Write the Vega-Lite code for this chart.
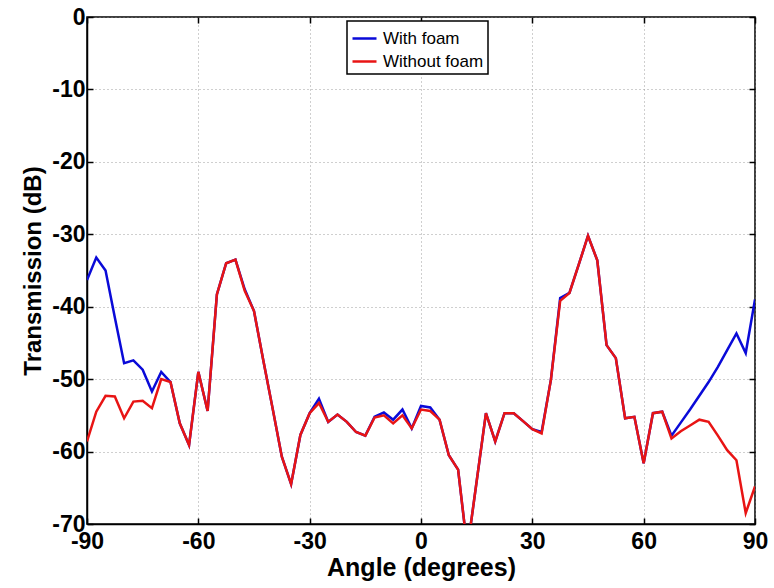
{
  "$schema": "https://vega.github.io/schema/vega-lite/v6.json",
  "autosize": "none",
  "width": 668,
  "height": 507,
  "padding": {"left": 87, "top": 17, "right": 19, "bottom": 64},
  "background": "white",
  "config": {
    "font": "Liberation Sans",
    "view": {"stroke": "black", "strokeWidth": 1.5},
    "axis": {
      "domainColor": "black",
      "domainWidth": 1.5,
      "tickColor": "black",
      "tickWidth": 1.5,
      "tickSize": -6,
      "labelFont": "Liberation Sans",
      "labelFontSize": 23,
      "labelFontWeight": "bold",
      "labelColor": "black",
      "labelFlush": false,
      "labelOverlap": false,
      "labelExpr": "'' + datum.value",
      "titleFont": "Liberation Sans",
      "titleFontWeight": "bold",
      "titleColor": "black",
      "gridColor": "#888888",
      "gridDash": [1, 3],
      "gridWidth": 1,
      "gridOpacity": 0.8
    },
    "legend": {
      "strokeColor": "black",
      "fillColor": "white",
      "strokeWidth": 1.5,
      "padding": 4,
      "labelFont": "Liberation Sans",
      "labelFontSize": 17,
      "labelColor": "black",
      "symbolType": "stroke",
      "symbolSize": 576,
      "symbolStrokeWidth": 2.5,
      "rowPadding": 1,
      "labelOffset": 5
    }
  },
  "data": {
    "values": [
      {"angle": -90, "db": -36.3, "series": "With foam"},
      {"angle": -87.5, "db": -33.2, "series": "With foam"},
      {"angle": -85, "db": -35.0, "series": "With foam"},
      {"angle": -82.5, "db": -41.5, "series": "With foam"},
      {"angle": -80, "db": -47.8, "series": "With foam"},
      {"angle": -77.5, "db": -47.4, "series": "With foam"},
      {"angle": -75, "db": -48.7, "series": "With foam"},
      {"angle": -72.5, "db": -51.7, "series": "With foam"},
      {"angle": -70, "db": -49.0, "series": "With foam"},
      {"angle": -67.5, "db": -50.4, "series": "With foam"},
      {"angle": -65, "db": -56.1, "series": "With foam"},
      {"angle": -62.5, "db": -59.1, "series": "With foam"},
      {"angle": -60, "db": -49.0, "series": "With foam"},
      {"angle": -57.5, "db": -54.4, "series": "With foam"},
      {"angle": -55, "db": -38.3, "series": "With foam"},
      {"angle": -52.5, "db": -34.0, "series": "With foam"},
      {"angle": -50, "db": -33.5, "series": "With foam"},
      {"angle": -47.5, "db": -37.6, "series": "With foam"},
      {"angle": -45, "db": -40.6, "series": "With foam"},
      {"angle": -42.5, "db": -47.4, "series": "With foam"},
      {"angle": -40, "db": -54.0, "series": "With foam"},
      {"angle": -37.5, "db": -60.7, "series": "With foam"},
      {"angle": -35, "db": -64.5, "series": "With foam"},
      {"angle": -32.5, "db": -57.7, "series": "With foam"},
      {"angle": -30, "db": -54.7, "series": "With foam"},
      {"angle": -27.5, "db": -52.7, "series": "With foam"},
      {"angle": -25, "db": -55.9, "series": "With foam"},
      {"angle": -22.5, "db": -54.9, "series": "With foam"},
      {"angle": -20, "db": -55.9, "series": "With foam"},
      {"angle": -17.5, "db": -57.3, "series": "With foam"},
      {"angle": -15, "db": -57.8, "series": "With foam"},
      {"angle": -12.5, "db": -55.2, "series": "With foam"},
      {"angle": -10, "db": -54.6, "series": "With foam"},
      {"angle": -7.5, "db": -55.6, "series": "With foam"},
      {"angle": -5, "db": -54.2, "series": "With foam"},
      {"angle": -2.5, "db": -56.8, "series": "With foam"},
      {"angle": 0, "db": -53.7, "series": "With foam"},
      {"angle": 2.5, "db": -53.9, "series": "With foam"},
      {"angle": 5, "db": -55.6, "series": "With foam"},
      {"angle": 7.5, "db": -60.5, "series": "With foam"},
      {"angle": 10, "db": -62.5, "series": "With foam"},
      {"angle": 12.5, "db": -73.5, "series": "With foam"},
      {"angle": 15, "db": -64.1, "series": "With foam"},
      {"angle": 17.5, "db": -54.7, "series": "With foam"},
      {"angle": 20, "db": -58.6, "series": "With foam"},
      {"angle": 22.5, "db": -54.7, "series": "With foam"},
      {"angle": 25, "db": -54.7, "series": "With foam"},
      {"angle": 27.5, "db": -55.8, "series": "With foam"},
      {"angle": 30, "db": -56.9, "series": "With foam"},
      {"angle": 32.5, "db": -57.3, "series": "With foam"},
      {"angle": 35, "db": -50.1, "series": "With foam"},
      {"angle": 37.5, "db": -38.8, "series": "With foam"},
      {"angle": 40, "db": -38.1, "series": "With foam"},
      {"angle": 42.5, "db": -34.2, "series": "With foam"},
      {"angle": 45, "db": -30.2, "series": "With foam"},
      {"angle": 47.5, "db": -33.6, "series": "With foam"},
      {"angle": 50, "db": -45.3, "series": "With foam"},
      {"angle": 52.5, "db": -47.1, "series": "With foam"},
      {"angle": 55, "db": -55.4, "series": "With foam"},
      {"angle": 57.5, "db": -55.2, "series": "With foam"},
      {"angle": 60, "db": -61.6, "series": "With foam"},
      {"angle": 62.5, "db": -54.7, "series": "With foam"},
      {"angle": 65, "db": -54.5, "series": "With foam"},
      {"angle": 67.5, "db": -57.8, "series": "With foam"},
      {"angle": 70, "db": -56.0, "series": "With foam"},
      {"angle": 72.5, "db": -54.2, "series": "With foam"},
      {"angle": 75, "db": -52.3, "series": "With foam"},
      {"angle": 77.5, "db": -50.4, "series": "With foam"},
      {"angle": 80, "db": -48.3, "series": "With foam"},
      {"angle": 82.5, "db": -46.0, "series": "With foam"},
      {"angle": 85, "db": -43.7, "series": "With foam"},
      {"angle": 87.5, "db": -46.4, "series": "With foam"},
      {"angle": 90, "db": -39.0, "series": "With foam"},
      {"angle": -90, "db": -58.6, "series": "Without foam"},
      {"angle": -87.5, "db": -54.5, "series": "Without foam"},
      {"angle": -85, "db": -52.3, "series": "Without foam"},
      {"angle": -82.5, "db": -52.4, "series": "Without foam"},
      {"angle": -80, "db": -55.4, "series": "Without foam"},
      {"angle": -77.5, "db": -53.1, "series": "Without foam"},
      {"angle": -75, "db": -53.0, "series": "Without foam"},
      {"angle": -72.5, "db": -54.0, "series": "Without foam"},
      {"angle": -70, "db": -50.0, "series": "Without foam"},
      {"angle": -67.5, "db": -50.4, "series": "Without foam"},
      {"angle": -65, "db": -56.1, "series": "Without foam"},
      {"angle": -62.5, "db": -59.1, "series": "Without foam"},
      {"angle": -60, "db": -49.0, "series": "Without foam"},
      {"angle": -57.5, "db": -54.4, "series": "Without foam"},
      {"angle": -55, "db": -38.3, "series": "Without foam"},
      {"angle": -52.5, "db": -34.0, "series": "Without foam"},
      {"angle": -50, "db": -33.5, "series": "Without foam"},
      {"angle": -47.5, "db": -37.8, "series": "Without foam"},
      {"angle": -45, "db": -40.6, "series": "Without foam"},
      {"angle": -42.5, "db": -47.4, "series": "Without foam"},
      {"angle": -40, "db": -54.0, "series": "Without foam"},
      {"angle": -37.5, "db": -60.7, "series": "Without foam"},
      {"angle": -35, "db": -64.5, "series": "Without foam"},
      {"angle": -32.5, "db": -57.7, "series": "Without foam"},
      {"angle": -30, "db": -54.7, "series": "Without foam"},
      {"angle": -27.5, "db": -53.3, "series": "Without foam"},
      {"angle": -25, "db": -55.9, "series": "Without foam"},
      {"angle": -22.5, "db": -54.9, "series": "Without foam"},
      {"angle": -20, "db": -55.9, "series": "Without foam"},
      {"angle": -17.5, "db": -57.3, "series": "Without foam"},
      {"angle": -15, "db": -57.8, "series": "Without foam"},
      {"angle": -12.5, "db": -55.3, "series": "Without foam"},
      {"angle": -10, "db": -55.0, "series": "Without foam"},
      {"angle": -7.5, "db": -56.1, "series": "Without foam"},
      {"angle": -5, "db": -55.0, "series": "Without foam"},
      {"angle": -2.5, "db": -56.8, "series": "Without foam"},
      {"angle": 0, "db": -54.2, "series": "Without foam"},
      {"angle": 2.5, "db": -54.4, "series": "Without foam"},
      {"angle": 5, "db": -55.6, "series": "Without foam"},
      {"angle": 7.5, "db": -60.5, "series": "Without foam"},
      {"angle": 10, "db": -62.5, "series": "Without foam"},
      {"angle": 12.5, "db": -73.5, "series": "Without foam"},
      {"angle": 15, "db": -64.1, "series": "Without foam"},
      {"angle": 17.5, "db": -54.7, "series": "Without foam"},
      {"angle": 20, "db": -58.6, "series": "Without foam"},
      {"angle": 22.5, "db": -54.7, "series": "Without foam"},
      {"angle": 25, "db": -54.7, "series": "Without foam"},
      {"angle": 27.5, "db": -55.8, "series": "Without foam"},
      {"angle": 30, "db": -56.9, "series": "Without foam"},
      {"angle": 32.5, "db": -57.5, "series": "Without foam"},
      {"angle": 35, "db": -50.1, "series": "Without foam"},
      {"angle": 37.5, "db": -39.2, "series": "Without foam"},
      {"angle": 40, "db": -38.1, "series": "Without foam"},
      {"angle": 42.5, "db": -34.2, "series": "Without foam"},
      {"angle": 45, "db": -30.2, "series": "Without foam"},
      {"angle": 47.5, "db": -33.6, "series": "Without foam"},
      {"angle": 50, "db": -45.3, "series": "Without foam"},
      {"angle": 52.5, "db": -47.1, "series": "Without foam"},
      {"angle": 55, "db": -55.4, "series": "Without foam"},
      {"angle": 57.5, "db": -55.2, "series": "Without foam"},
      {"angle": 60, "db": -61.6, "series": "Without foam"},
      {"angle": 62.5, "db": -54.7, "series": "Without foam"},
      {"angle": 65, "db": -54.5, "series": "Without foam"},
      {"angle": 67.5, "db": -58.2, "series": "Without foam"},
      {"angle": 70, "db": -57.2, "series": "Without foam"},
      {"angle": 72.5, "db": -56.4, "series": "Without foam"},
      {"angle": 75, "db": -55.6, "series": "Without foam"},
      {"angle": 77.5, "db": -55.9, "series": "Without foam"},
      {"angle": 80, "db": -57.8, "series": "Without foam"},
      {"angle": 82.5, "db": -59.8, "series": "Without foam"},
      {"angle": 85, "db": -61.2, "series": "Without foam"},
      {"angle": 87.5, "db": -68.5, "series": "Without foam"},
      {"angle": 90, "db": -64.8, "series": "Without foam"}
    ]
  },
  "layer": [
    {
      "mark": {"type": "line", "clip": true, "strokeWidth": 2.5},
      "encoding": {
        "x": {
          "field": "angle",
          "type": "quantitative",
          "scale": {"domain": [-90, 90], "nice": false},
          "axis": {"values": [-90, -60, -30, 0, 30, 60, 90], "grid": true, "title": "Angle (degrees)", "titleFontSize": 25, "labelPadding": 12, "titlePadding": 2}
        },
        "y": {
          "field": "db",
          "type": "quantitative",
          "scale": {"domain": [-70, 0], "nice": false},
          "axis": {"values": [-70, -60, -50, -40, -30, -20, -10, 0], "grid": true, "title": "Transmission (dB)", "titleFontSize": 24, "labelPadding": 8, "titlePadding": 6}
        },
        "color": {
          "field": "series",
          "type": "nominal",
          "scale": {"domain": ["With foam", "Without foam"], "range": ["#0a0ad8", "#e81414"]},
          "legend": {"title": null, "orient": "none", "legendX": 260, "legendY": 4}
        },
        "order": {"field": "angle", "type": "quantitative"}
      }
    },
    {
      "mark": {"type": "line", "opacity": 0, "clip": true},
      "encoding": {
        "x": {
          "field": "angle",
          "type": "quantitative",
          "axis": {"orient": "top", "values": [-90, -60, -30, 0, 30, 60, 90], "labels": false, "grid": false, "title": null, "domain": false}
        },
        "y": {
          "field": "db",
          "type": "quantitative",
          "axis": {"orient": "right", "values": [-70, -60, -50, -40, -30, -20, -10, 0], "labels": false, "grid": false, "title": null, "domain": false}
        },
        "detail": {"field": "series"}
      }
    }
  ],
  "resolve": {"axis": {"x": "independent", "y": "independent"}}
}
